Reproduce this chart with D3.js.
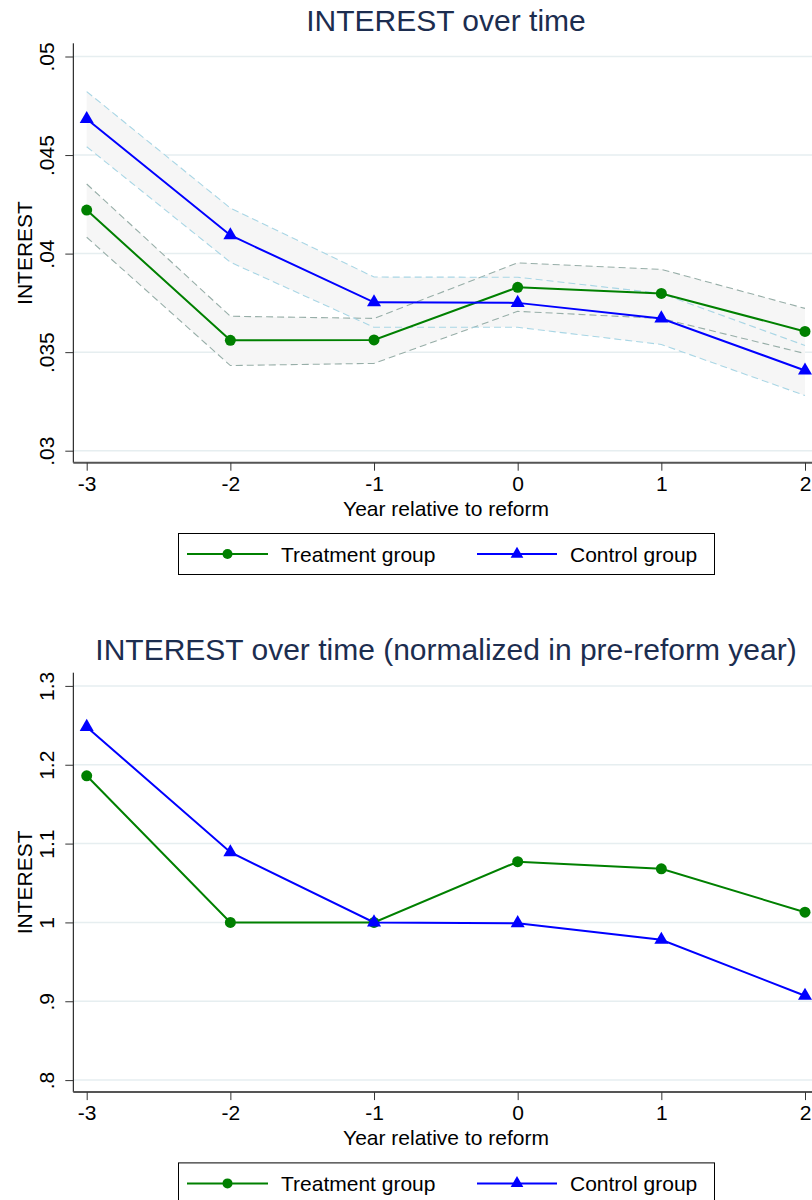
<!DOCTYPE html>
<html>
<head>
<meta charset="utf-8">
<script src="https://cdn.jsdelivr.net/npm/d3@7"></script>
<style>
body { margin: 0; background: #fff; }
svg { display: block; font-family: "Liberation Sans", Arial, sans-serif; }
</style>
</head>
<body>
<svg id="chart" width="812" height="1200"></svg>
<script>
// years relative to reform
var years = [-3, -2, -1, 0, 1, 2]

// panel 1: levels with confidence bands
var treatMean = [0.04221, 0.03560, 0.03562, 0.03829, 0.03798, 0.03605]
var treatLow  = [0.04083, 0.03432, 0.03443, 0.03707, 0.03671, 0.03493]
var treatHigh = [0.04353, 0.03682, 0.03671, 0.03953, 0.03920, 0.03722]
var ctrlMean  = [0.04683, 0.04093, 0.03753, 0.03750, 0.03671, 0.03407]
var ctrlLow   = [0.04542, 0.03956, 0.03626, 0.03626, 0.03539, 0.03280]
var ctrlHigh  = [0.04822, 0.04231, 0.03881, 0.03880, 0.03798, 0.03534]

// panel 2: normalized in pre-reform year
var treatNorm = [1.186, 1.000, 1.000, 1.077, 1.068, 1.013]
var ctrlNorm  = [1.248, 1.089, 1.000, 0.999, 0.978, 0.907]

var topTicks = [0.03, 0.035, 0.04, 0.045, 0.05]
var topTickLabels = [".03", ".035", ".04", ".045", ".05"]
var bottomTicks = [0.8, 0.9, 1.0, 1.1, 1.2, 1.3]
var bottomTickLabels = [".8", ".9", "1", "1.1", "1.2", "1.3"]
var xTickLabels = ["-3", "-2", "-1", "0", "1", "2"]

var titles = ["INTEREST over time", "INTEREST over time (normalized in pre-reform year)"]
var legendLabels = ["Treatment group", "Control group"]

var green = "#008000", blue = "#0000ff"
var svg = d3.select("#chart")

function drawPanel(offset, title, yDomain, ticks, tickLabels, series, bands) {
    var g = svg.append("g").attr("transform", "translate(0," + offset + ")")
    var left = 73.3, right = 830, top = 43.3, bottom = 462.7

    var x = d3.scaleLinear().domain([-3, 2]).range([86.7, 805])
    var y = d3.scaleLinear().domain(yDomain).range([450.7, 56.5])

    g.append("text")
        .attr("x", 446).attr("y", 31)
        .attr("text-anchor", "middle")
        .style("font-size", "30px")
        .style("fill", "#1c2d4f")
        .text(title)

    // grid
    g.selectAll(".grid").data(ticks).enter().append("line")
        .attr("x1", left).attr("x2", right)
        .attr("y1", function (d) { return y(d) }).attr("y2", function (d) { return y(d) })
        .style("stroke", "#e6eef0").style("stroke-width", 1.5)

    // confidence bands
    if (bands) {
        var area = d3.area()
            .x(function (d) { return x(d.year) })
            .y0(function (d) { return y(d.lo) })
            .y1(function (d) { return y(d.hi) })
        bands.forEach(function (b) {
            g.append("path").datum(b.rows).attr("d", area).style("fill", "#f6f6f6")
        })
        var edge = d3.line().x(function (d) { return x(d.year) }).y(function (d) { return y(d.v) })
        bands.forEach(function (b) {
            ["lo", "hi"].forEach(function (k) {
                g.append("path")
                    .datum(b.rows.map(function (r) { return { year: r.year, v: r[k] } }))
                    .attr("d", edge)
                    .style("fill", "none")
                    .style("stroke", b.color)
                    .style("stroke-width", 1.1)
                    .style("stroke-dasharray", "7,4")
            })
        })
    }

    var line = d3.line().x(function (d) { return x(d.year) }).y(function (d) { return y(d.v) })
    series.forEach(function (s) {
        var rows = years.map(function (yr, i) { return { year: yr, v: s.values[i] } })
        g.append("path").datum(rows).attr("d", line)
            .style("fill", "none").style("stroke", s.color).style("stroke-width", 2)
        if (s.shape == "circle") {
            g.selectAll(null).data(rows).enter().append("circle")
                .attr("cx", function (d) { return x(d.year) })
                .attr("cy", function (d) { return y(d.v) })
                .attr("r", 5.5).style("fill", s.color)
        } else {
            g.selectAll(null).data(rows).enter().append("path")
                .attr("d", d3.symbol().type(d3.symbolTriangle).size(85))
                .attr("transform", function (d) { return "translate(" + x(d.year) + "," + y(d.v) + ")" })
                .style("fill", s.color)
        }
    })

    // y axis
    var yAxis = g.append("g").attr("transform", "translate(" + left + ",0)")
        .call(d3.axisLeft(y).tickValues(ticks).tickSize(8).tickFormat(function (d, i) { return tickLabels[i] }))
    yAxis.select(".domain").attr("d", "M0," + top + "V" + bottom).style("stroke", "#000")
    yAxis.selectAll(".tick line").style("stroke", "#333")
    yAxis.selectAll(".tick text")
        .attr("x", 0).attr("dy", 0)
        .attr("transform", "translate(-19,0) rotate(-90)")
        .attr("text-anchor", "middle")
        .style("font-size", "21px").style("fill", "#000")
        .style("font-family", "Liberation Sans, Arial, sans-serif")

    g.append("text")
        .attr("transform", "translate(32," + ((top + bottom) / 2) + ") rotate(-90)")
        .attr("text-anchor", "middle")
        .style("font-size", "21px")
        .text("INTEREST")

    // x axis
    var xAxis = g.append("g").attr("transform", "translate(0," + bottom + ")")
        .call(d3.axisBottom(x).tickValues(years).tickSize(8).tickFormat(function (d, i) { return xTickLabels[i] }))
    xAxis.select(".domain").attr("d", "M" + left + ",0H" + right).style("stroke", "#555").style("stroke-width", 2)
    xAxis.selectAll(".tick line").style("stroke", "#333")
    xAxis.selectAll(".tick text")
        .attr("y", 28).attr("dy", 0)
        .style("font-size", "21px").style("fill", "#000")
        .style("font-family", "Liberation Sans, Arial, sans-serif")

    g.append("text")
        .attr("x", 446).attr("y", 516)
        .attr("text-anchor", "middle")
        .style("font-size", "21px")
        .text("Year relative to reform")

    // legend
    var lg = g.append("g")
    lg.append("rect").attr("x", 178.5).attr("y", 533.5).attr("width", 536).attr("height", 41)
        .style("fill", "#fff").style("stroke", "#000").style("stroke-width", 1)
    var items = [
        { x1: 187, x2: 268, tx: 281, color: green, shape: "circle", label: legendLabels[0] },
        { x1: 477, x2: 557, tx: 570, color: blue, shape: "triangle", label: legendLabels[1] }
    ]
    items.forEach(function (it) {
        lg.append("line").attr("x1", it.x1).attr("x2", it.x2).attr("y1", 554).attr("y2", 554)
            .style("stroke", it.color).style("stroke-width", 2)
        var cx = (it.x1 + it.x2) / 2
        if (it.shape == "circle") {
            lg.append("circle").attr("cx", cx).attr("cy", 554).attr("r", 5).style("fill", it.color)
        } else {
            lg.append("path").attr("d", d3.symbol().type(d3.symbolTriangle).size(70))
                .attr("transform", "translate(" + cx + ",554)").style("fill", it.color)
        }
        lg.append("text").attr("x", it.tx).attr("y", 561.5)
            .style("font-size", "21px").text(it.label)
    })
}

function bandRows(lo, hi) {
    return years.map(function (yr, i) { return { year: yr, lo: lo[i], hi: hi[i] } })
}

drawPanel(0, titles[0], [0.03, 0.05], topTicks, topTickLabels,
    [{ values: treatMean, color: green, shape: "circle" },
     { values: ctrlMean, color: blue, shape: "triangle" }],
    [{ rows: bandRows(treatLow, treatHigh), color: "#97aea8" },
     { rows: bandRows(ctrlLow, ctrlHigh), color: "#a9d6e5" }])

drawPanel(629.4, titles[1], [0.8, 1.3], bottomTicks, bottomTickLabels,
    [{ values: treatNorm, color: green, shape: "circle" },
     { values: ctrlNorm, color: blue, shape: "triangle" }],
    null)
</script>
</body>
</html>
